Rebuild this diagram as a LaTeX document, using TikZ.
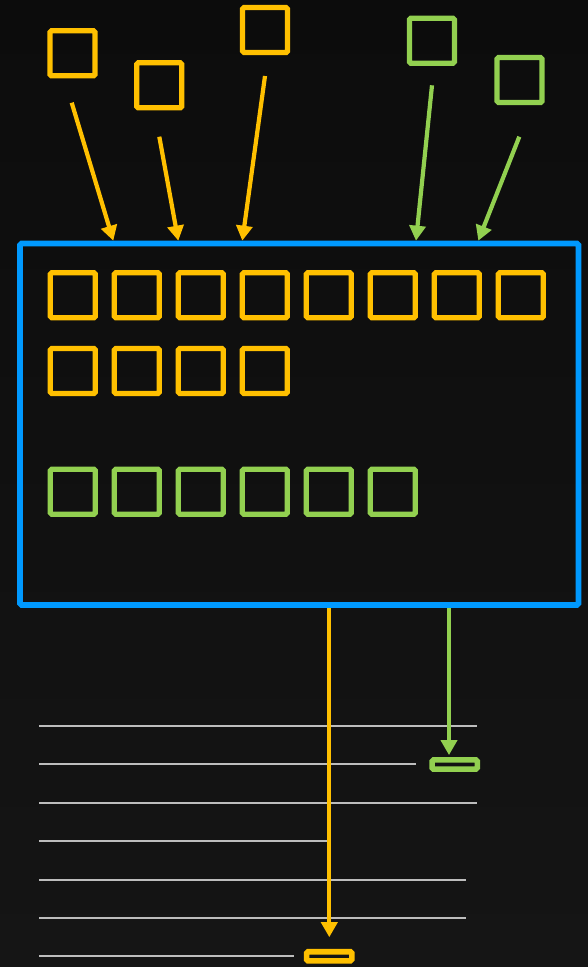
\documentclass[tikz,border=0pt]{standalone}
\usetikzlibrary{arrows.meta}
\definecolor{bgtop}{HTML}{0C0C0C}
\definecolor{bgbot}{HTML}{151515}
\definecolor{ylw}{HTML}{FFC000}
\definecolor{grn}{HTML}{92D050}
\definecolor{blu}{HTML}{0099FF}
\definecolor{rule}{HTML}{BDBDBD}
\tikzset{
  sq/.style={draw=#1, line width=5.3pt, rounded corners=1.5pt, minimum width=45pt, minimum height=45pt, inner sep=0pt},
  slot/.style={draw=#1, line width=5.6pt, rounded corners=1.5pt, minimum width=45.3pt, minimum height=9.2pt, inner sep=0pt},
  con/.style={draw=#1, line width=4.2pt, -{Triangle[length=15pt,width=16pt]}},
  guide/.style={draw=rule, line width=2.1pt},
}
\begin{document}
\begin{tikzpicture}[x=1pt, y=-1pt]
\useasboundingbox (0,0) rectangle (588,967);
\shade[top color=bgtop, bottom color=bgbot] (0,0) rectangle (588,967);

% sources above the container
\node[sq=ylw] (b1) at (72.5,53.3) {};
\node[sq=ylw] (b2) at (159.2,85.3) {};
\node[sq=ylw] (b3) at (265,30) {};
\node[sq=grn] (b4) at (431.9,40.8) {};
\node[sq=grn] (b5) at (519.5,80) {};

% start points of the incoming connectors
\coordinate (s1) at (71.7,102.7);
\coordinate (s2) at (159.3,136.7);
\coordinate (s3) at (265,76);
\coordinate (s4) at (432,85.3);
\coordinate (s5) at (519.3,136.7);

% container
\node[draw=blu, line width=5.6pt, rounded corners=1.5pt, minimum width=558.5pt, minimum height=361.5pt, inner sep=0pt] (bb) at (299.25,424.25) {};

% yellow items inside
\foreach \i in {1,...,8} {
  \node[sq=ylw] (y\i) at ({72.8+64*(\i-1)},295.2) {};
}
\foreach \i in {1,...,4} {
  \node[sq=ylw] (y\the\numexpr\i+8\relax) at ({72.8+64*(\i-1)},371) {};
}
% green items inside
\foreach \i in {1,...,6} {
  \node[sq=grn] (g\i) at ({72.8+64*(\i-1)},491.7) {};
}

% incoming connectors
\draw[con=ylw] (s1) -- (113.3,0 |- bb.north);
\draw[con=ylw] (s2) -- (178.3,0 |- bb.north);
\draw[con=ylw] (s3) -- (242.3,0 |- bb.north);
\draw[con=grn] (s4) -- (416,0 |- bb.north);
\draw[con=grn] (s5) -- (478.3,0 |- bb.north);

% ruled lines below
\draw[guide] (39,725.7) -- (477.3,725.7);
\draw[guide] (39,764.3) -- (415.7,764.3);
\draw[guide] (39,802.7) -- (477.3,802.7);
\draw[guide] (39,841) -- (327.7,841);
\draw[guide] (39,879.7) -- (466.3,879.7);
\draw[guide] (39,918) -- (466.3,918);
\draw[guide] (39,956.3) -- (294,956.3);

% output slots
\node[slot=grn] (gs) at (454.7,764.5) {};
\node[slot=ylw] (ys) at (329.2,956.3) {};

% outgoing connectors
\draw[con=ylw, shorten >=11.7pt] (329.3,0 |- bb.south) -- (329.3,0 |- ys.north);
\draw[con=grn, shorten >=2pt] (449,0 |- bb.south) -- (449,0 |- gs.north);
\end{tikzpicture}
\end{document}
